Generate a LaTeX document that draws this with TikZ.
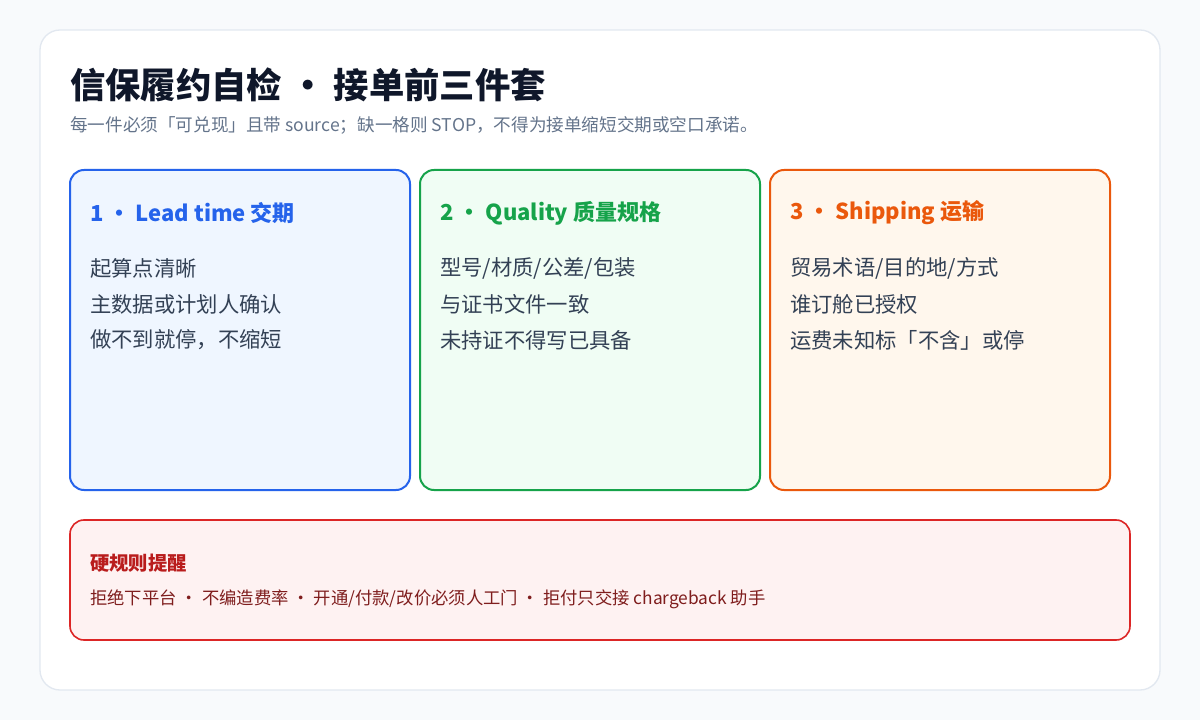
\documentclass[tikz,border=0pt]{standalone}
\usepackage{fontspec}
\setmainfont{Noto Sans CJK SC}
\usepackage{tikz}
\usetikzlibrary{positioning}
\definecolor{pagebg}{HTML}{F8FAFC}
\definecolor{cardline}{HTML}{E2E8F0}
\definecolor{titleink}{HTML}{0F172A}
\definecolor{subink}{HTML}{64748B}
\definecolor{bodyink}{HTML}{334155}
\definecolor{blueline}{HTML}{2563EB}\definecolor{bluefill}{HTML}{EFF6FF}
\definecolor{greenline}{HTML}{16A34A}\definecolor{greenfill}{HTML}{F0FDF4}
\definecolor{orangeline}{HTML}{EA580C}\definecolor{orangefill}{HTML}{FFF7ED}
\definecolor{redline}{HTML}{DC2626}\definecolor{redfill}{HTML}{FEF2F2}
\definecolor{redink}{HTML}{B91C1C}\definecolor{redbody}{HTML}{7F1D1D}
\tikzset{
  panel/.style={rounded corners=10.5pt, line width=1.5pt},
  head/.style={anchor=west, inner sep=0pt, font=\fontsize{16.5}{18}\selectfont\bfseries},
  item/.style={anchor=west, inner sep=0pt, text=bodyink, font=\fontsize{16}{18}\selectfont}
}
\begin{document}
\begin{tikzpicture}[x=0.75pt,y=-0.75pt]
  \fill[pagebg] (0,0) rectangle (1200,720);
  \useasboundingbox (0,0) rectangle (1200,720);
  \draw[fill=white, draw=cardline, rounded corners=15pt, line width=1pt] (40,30) rectangle (1160,690);
  \node[anchor=west, inner sep=0pt, text=titleink, font=\fontsize{26.5}{28}\selectfont\bfseries] (title) at (70,85) {信保履约自检 · 接单前三件套};
  \node[anchor=west, inner sep=0pt, text=subink, font=\fontsize{13.2}{15}\selectfont] (sub) at (70,125) {每一件必须「可兑现」且带 source；缺一格则 STOP，不得为接单缩短交期或空口承诺。};
  % three panels
  \draw[panel, draw=blueline, fill=bluefill] (70,170) rectangle (410,490);
  \draw[panel, draw=greenline, fill=greenfill] (420,170) rectangle (760,490);
  \draw[panel, draw=orangeline, fill=orangefill] (770,170) rectangle (1110,490);
  \node[head, text=blueline] (leadhead) at (90,213) {1 · Lead time 交期};
  \node[item] (lead1) at (90,268) {起算点清晰};
  \node[item] (lead2) at (90,304) {主数据或计划人确认};
  \node[item] (lead3) at (90,340) {做不到就停，不缩短};
  \node[head, text=greenline] (qualhead) at (440,213) {2 · Quality 质量规格};
  \node[item] (qual1) at (440,268) {型号/材质/公差/包装};
  \node[item] (qual2) at (440,304) {与证书文件一致};
  \node[item] (qual3) at (440,340) {未持证不得写已具备};
  \node[head, text=orangeline] (shiphead) at (790,213) {3 · Shipping 运输};
  \node[item] (ship1) at (790,268) {贸易术语/目的地/方式};
  \node[item] (ship2) at (790,304) {谁订舱已授权};
  \node[item] (ship3) at (790,340) {运费未知标「不含」或停};
  % hard rules
  \draw[panel, line width=1.2pt, draw=redline, fill=redfill] (70,520) rectangle (1130,640);
  \node[anchor=west, inner sep=0pt, text=redink, font=\fontsize{14.5}{16}\selectfont\bfseries] (rulehead) at (90,563) {硬规则提醒};
  \node[anchor=west, inner sep=0pt, text=redbody, font=\fontsize{13}{15}\selectfont] (rules) at (90,599) {拒绝下平台 · 不编造费率 · 开通/付款/改价必须人工门 · 拒付只交接 chargeback 助手};
\end{tikzpicture}
\end{document}
